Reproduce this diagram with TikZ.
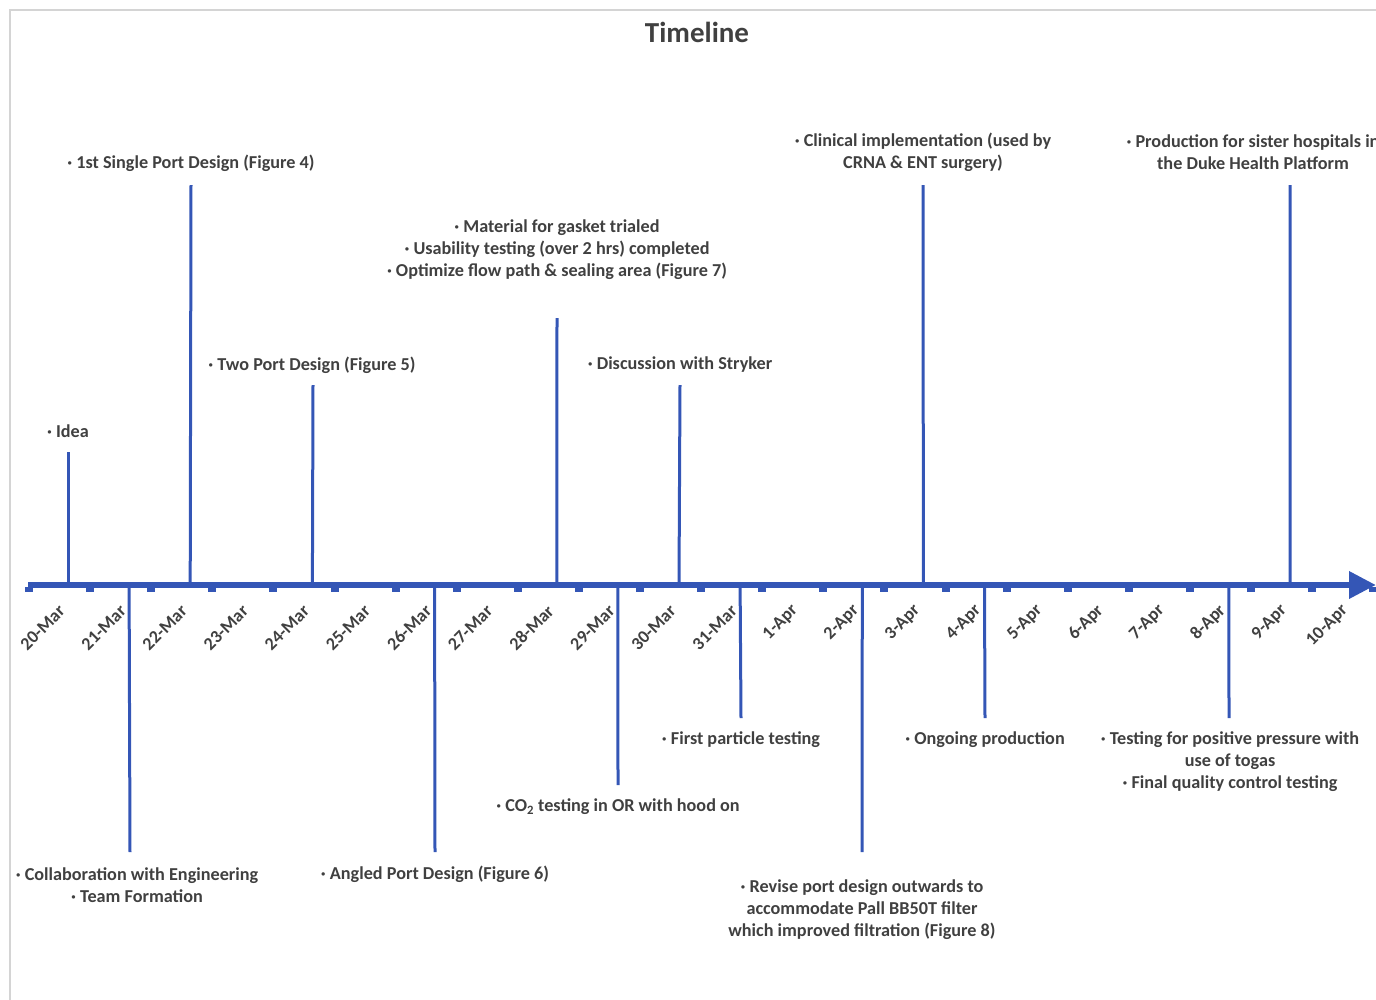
\documentclass[tikz,border=0pt]{standalone}
\usepackage{fontspec}
\setmainfont{Carlito}
\usetikzlibrary{arrows.meta}
\definecolor{tlblue}{RGB}{52,86,182}
\definecolor{tltext}{RGB}{64,64,64}
\definecolor{frameg}{RGB}{212,212,212}
\begin{document}
\begin{tikzpicture}[x=1pt,y=-1pt,
  lbl/.style={font=\bfseries\fontsize{18.2}{22}\selectfont, text=tltext, align=center, inner sep=0pt},
  datelbl/.style={font=\bfseries\fontsize{18}{20}\selectfont, text=tltext, rotate=45, anchor=east, inner sep=0pt},
  stem/.style={draw=tlblue, line width=3pt},
  axisline/.style={draw=tlblue, line width=6.5pt, -{Triangle[length=27pt,width=26pt]}},
  tickmark/.style={fill=tlblue}]
\useasboundingbox (0,0) rectangle (1376,999);
\draw[frameg, line width=1.5pt] (10,10) rectangle (1420,1040);
\node[font=\bfseries\fontsize{29}{32}\selectfont, text=tltext] (title) at (697,32) {Timeline};
% axis
\coordinate (axS) at (28,585);
\coordinate (axE) at (1376,585);
\foreach \k in {0,...,22} \fill[tickmark] ({29+61.1*\k-4},587) rectangle +(8,5);
\draw[axisline] (axS) -- (axE);
% category points on axis
\foreach \k in {0,...,21} \coordinate (c\k) at ({68+61.1*\k},585);
% dates
\foreach \d [count=\i from 0] in {20-Mar,21-Mar,22-Mar,23-Mar,24-Mar,25-Mar,26-Mar,27-Mar,28-Mar,29-Mar,30-Mar,31-Mar,1-Apr,2-Apr,3-Apr,4-Apr,5-Apr,6-Apr,7-Apr,8-Apr,9-Apr,10-Apr}
  \node[datelbl] (d\i) at ({68+61.1*\i-6},608) {\d};
% stem end points
\coordinate (e0) at (68,452);
\coordinate (e1) at (130,852);
\coordinate (e2) at (191,185);
\coordinate (e4) at (313,385);
\coordinate (e6) at (435,852);
\coordinate (e8) at (557,318);
\coordinate (e9) at (618,785);
\coordinate (e10) at (680,385);
\coordinate (e11) at (741,718);
\coordinate (e13) at (862,852);
\coordinate (e14) at (923,185);
\coordinate (e15) at (985,718);
\coordinate (e19) at (1229,718);
\coordinate (e20) at (1290,185);
\foreach \k in {0,1,2,4,6,8,9,10,11,13,14,15,19,20} \draw[stem] (c\k) -- (e\k);
% labels
\node[lbl] (l0) at (68,431) {· Idea};
\node[lbl] (l1) at (137,885) {· Collaboration with Engineering\\· Team Formation};
\node[lbl] (l2) at (191,163) {· 1st Single Port Design (Figure 4)};
\node[lbl] (l4) at (312,365) {· Two Port Design (Figure 5)};
\node[lbl] (l6) at (435,874) {· Angled Port Design (Figure 6)};
\node[lbl] (l8) at (557,250) {· Material for gasket trialed\\· Usability testing (over 2 hrs) completed\\· Optimize flow path \& sealing area (Figure 7)};
\node[lbl] (l9) at (618,807) {· CO\textsubscript{2} testing in OR with hood on};
\node[lbl] (l10) at (680,365) {· Discussion with Stryker};
\node[lbl] (l11) at (741,740) {· First particle testing};
\node[lbl] (l13) at (862,910) {· Revise port design outwards to\\accommodate Pall BB50T filter\\which improved filtration (Figure 8)};
\node[lbl] (l14) at (923,152) {· Clinical implementation (used by\\CRNA \& ENT surgery)};
\node[lbl] (l15) at (985,740) {· Ongoing production};
\node[lbl] (l19) at (1230,762) {· Testing for positive pressure with\\use of togas\\· Final quality control testing};
\node[lbl] (l20) at (1253,152) {· Production for sister hospitals in\\the Duke Health Platform};
\end{tikzpicture}
\end{document}
